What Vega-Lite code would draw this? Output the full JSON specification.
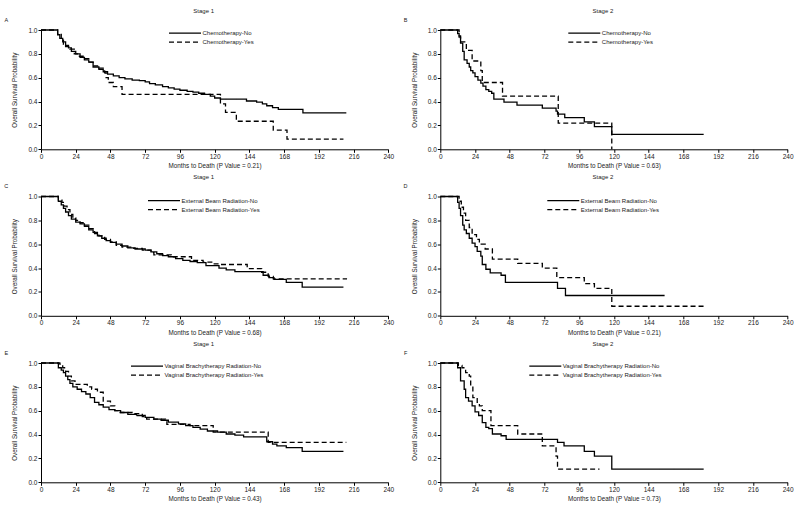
{
  "$schema": "https://vega.github.io/schema/vega-lite/v6.json",
  "padding": {"left": 4, "top": 7, "right": 0, "bottom": 0},
  "background": "white",
  "columns": 2,
  "spacing": {"row": 46.5, "column": 51.3},
  "bounds": "flush",
  "resolve": {"scale": {"strokeDash": "independent"}, "legend": {"strokeDash": "independent"}},
  "config": {
    "view": {"stroke": null},
    "font": "Liberation Sans",
    "axis": {"grid": false, "domainColor": "#000", "tickColor": "#000", "labelColor": "#222", "titleColor": "#222", "labelFontSize": 6.5, "titleFontSize": 6.3, "titleFontWeight": "normal", "tickSize": 3, "labelPadding": 1, "domainWidth": 1, "tickWidth": 1, "labelOverlap": false},
    "axisX": {"titlePadding": 3, "labelFlush": false, "labelOverlap": false},
    "axisY": {"titlePadding": 10, "labelOverlap": false},
    "title": {"fontSize": 6, "fontWeight": "normal", "color": "#222", "anchor": "middle", "frame": "group", "offset": 4, "dx": -11},
    "legend": {"symbolType": "stroke", "symbolSize": 1024, "symbolStrokeWidth": 1.3, "symbolStrokeColor": "#000", "labelFontSize": 6, "labelColor": "#222", "labelOffset": 0.5, "clipHeight": 8.3, "rowPadding": 0, "padding": 0, "symbolOffset": 0}
  },
  "datasets": {
    "A": [
      {"month":0,"surv":1,"group":"Chemotherapy-No"},{"month":11.5,"surv":0.96,"group":"Chemotherapy-No"},{"month":13,"surv":0.93,"group":"Chemotherapy-No"},{"month":15,"surv":0.9,"group":"Chemotherapy-No"},{"month":17,"surv":0.87,"group":"Chemotherapy-No"},{"month":19,"surv":0.85,"group":"Chemotherapy-No"},{"month":21,"surv":0.82,"group":"Chemotherapy-No"},{"month":24,"surv":0.8,"group":"Chemotherapy-No"},{"month":27,"surv":0.77,"group":"Chemotherapy-No"},{"month":30,"surv":0.75,"group":"Chemotherapy-No"},{"month":33,"surv":0.73,"group":"Chemotherapy-No"},{"month":36,"surv":0.69,"group":"Chemotherapy-No"},{"month":40,"surv":0.67,"group":"Chemotherapy-No"},{"month":43,"surv":0.65,"group":"Chemotherapy-No"},{"month":46,"surv":0.63,"group":"Chemotherapy-No"},{"month":50,"surv":0.615,"group":"Chemotherapy-No"},{"month":54,"surv":0.6,"group":"Chemotherapy-No"},{"month":58,"surv":0.59,"group":"Chemotherapy-No"},{"month":63,"surv":0.58,"group":"Chemotherapy-No"},{"month":68,"surv":0.575,"group":"Chemotherapy-No"},{"month":72,"surv":0.565,"group":"Chemotherapy-No"},{"month":75,"surv":0.55,"group":"Chemotherapy-No"},{"month":79,"surv":0.54,"group":"Chemotherapy-No"},{"month":84,"surv":0.525,"group":"Chemotherapy-No"},{"month":88,"surv":0.515,"group":"Chemotherapy-No"},{"month":92,"surv":0.505,"group":"Chemotherapy-No"},{"month":96,"surv":0.495,"group":"Chemotherapy-No"},{"month":101,"surv":0.485,"group":"Chemotherapy-No"},{"month":105,"surv":0.48,"group":"Chemotherapy-No"},{"month":109,"surv":0.47,"group":"Chemotherapy-No"},{"month":113,"surv":0.46,"group":"Chemotherapy-No"},{"month":117,"surv":0.445,"group":"Chemotherapy-No"},{"month":120,"surv":0.43,"group":"Chemotherapy-No"},{"month":124,"surv":0.42,"group":"Chemotherapy-No"},{"month":142,"surv":0.405,"group":"Chemotherapy-No"},{"month":149,"surv":0.395,"group":"Chemotherapy-No"},{"month":153,"surv":0.38,"group":"Chemotherapy-No"},{"month":156,"surv":0.365,"group":"Chemotherapy-No"},{"month":160,"surv":0.35,"group":"Chemotherapy-No"},{"month":164,"surv":0.335,"group":"Chemotherapy-No"},{"month":181,"surv":0.305,"group":"Chemotherapy-No"},{"month":211,"surv":0.305,"group":"Chemotherapy-No"},
      {"month":0,"surv":1,"group":"Chemotherapy-Yes"},{"month":11.5,"surv":0.97,"group":"Chemotherapy-Yes"},{"month":14,"surv":0.93,"group":"Chemotherapy-Yes"},{"month":15.5,"surv":0.88,"group":"Chemotherapy-Yes"},{"month":17,"surv":0.86,"group":"Chemotherapy-Yes"},{"month":20,"surv":0.84,"group":"Chemotherapy-Yes"},{"month":23,"surv":0.8,"group":"Chemotherapy-Yes"},{"month":26,"surv":0.78,"group":"Chemotherapy-Yes"},{"month":30,"surv":0.76,"group":"Chemotherapy-Yes"},{"month":33,"surv":0.73,"group":"Chemotherapy-Yes"},{"month":36,"surv":0.7,"group":"Chemotherapy-Yes"},{"month":40,"surv":0.68,"group":"Chemotherapy-Yes"},{"month":44,"surv":0.64,"group":"Chemotherapy-Yes"},{"month":45,"surv":0.6,"group":"Chemotherapy-Yes"},{"month":46.5,"surv":0.56,"group":"Chemotherapy-Yes"},{"month":50,"surv":0.525,"group":"Chemotherapy-Yes"},{"month":56,"surv":0.46,"group":"Chemotherapy-Yes"},{"month":124,"surv":0.38,"group":"Chemotherapy-Yes"},{"month":127.5,"surv":0.31,"group":"Chemotherapy-Yes"},{"month":135,"surv":0.235,"group":"Chemotherapy-Yes"},{"month":160.5,"surv":0.16,"group":"Chemotherapy-Yes"},{"month":170,"surv":0.085,"group":"Chemotherapy-Yes"},{"month":209,"surv":0.085,"group":"Chemotherapy-Yes"}
    ],
    "B": [
      {"month":0,"surv":1,"group":"Chemotherapy-No"},{"month":12,"surv":0.97,"group":"Chemotherapy-No"},{"month":13,"surv":0.94,"group":"Chemotherapy-No"},{"month":14,"surv":0.89,"group":"Chemotherapy-No"},{"month":15.5,"surv":0.82,"group":"Chemotherapy-No"},{"month":16.5,"surv":0.75,"group":"Chemotherapy-No"},{"month":18.5,"surv":0.72,"group":"Chemotherapy-No"},{"month":20,"surv":0.69,"group":"Chemotherapy-No"},{"month":21,"surv":0.66,"group":"Chemotherapy-No"},{"month":22.5,"surv":0.64,"group":"Chemotherapy-No"},{"month":24,"surv":0.61,"group":"Chemotherapy-No"},{"month":26,"surv":0.58,"group":"Chemotherapy-No"},{"month":28,"surv":0.555,"group":"Chemotherapy-No"},{"month":29.5,"surv":0.53,"group":"Chemotherapy-No"},{"month":31.5,"surv":0.5,"group":"Chemotherapy-No"},{"month":33.5,"surv":0.485,"group":"Chemotherapy-No"},{"month":35.5,"surv":0.47,"group":"Chemotherapy-No"},{"month":37,"surv":0.42,"group":"Chemotherapy-No"},{"month":44,"surv":0.395,"group":"Chemotherapy-No"},{"month":53,"surv":0.37,"group":"Chemotherapy-No"},{"month":70.5,"surv":0.345,"group":"Chemotherapy-No"},{"month":80,"surv":0.32,"group":"Chemotherapy-No"},{"month":81,"surv":0.295,"group":"Chemotherapy-No"},{"month":86,"surv":0.265,"group":"Chemotherapy-No"},{"month":99.5,"surv":0.23,"group":"Chemotherapy-No"},{"month":106.5,"surv":0.19,"group":"Chemotherapy-No"},{"month":118.5,"surv":0.125,"group":"Chemotherapy-No"},{"month":182,"surv":0.125,"group":"Chemotherapy-No"},
      {"month":0,"surv":1,"group":"Chemotherapy-Yes"},{"month":13,"surv":0.95,"group":"Chemotherapy-Yes"},{"month":14,"surv":0.9,"group":"Chemotherapy-Yes"},{"month":18,"surv":0.83,"group":"Chemotherapy-Yes"},{"month":22,"surv":0.74,"group":"Chemotherapy-Yes"},{"month":28,"surv":0.66,"group":"Chemotherapy-Yes"},{"month":29,"surv":0.56,"group":"Chemotherapy-Yes"},{"month":43,"surv":0.445,"group":"Chemotherapy-Yes"},{"month":81.5,"surv":0.22,"group":"Chemotherapy-Yes"},{"month":118.5,"surv":0,"group":"Chemotherapy-Yes"}
    ],
    "C": [
      {"month":0,"surv":1,"group":"External Beam Radiation-No"},{"month":12,"surv":0.96,"group":"External Beam Radiation-No"},{"month":14,"surv":0.93,"group":"External Beam Radiation-No"},{"month":15.5,"surv":0.9,"group":"External Beam Radiation-No"},{"month":17,"surv":0.87,"group":"External Beam Radiation-No"},{"month":19,"surv":0.84,"group":"External Beam Radiation-No"},{"month":21,"surv":0.81,"group":"External Beam Radiation-No"},{"month":24,"surv":0.785,"group":"External Beam Radiation-No"},{"month":27,"surv":0.77,"group":"External Beam Radiation-No"},{"month":30,"surv":0.75,"group":"External Beam Radiation-No"},{"month":33,"surv":0.72,"group":"External Beam Radiation-No"},{"month":36,"surv":0.7,"group":"External Beam Radiation-No"},{"month":39,"surv":0.67,"group":"External Beam Radiation-No"},{"month":42,"surv":0.65,"group":"External Beam Radiation-No"},{"month":45,"surv":0.63,"group":"External Beam Radiation-No"},{"month":48,"surv":0.615,"group":"External Beam Radiation-No"},{"month":52,"surv":0.6,"group":"External Beam Radiation-No"},{"month":56,"surv":0.585,"group":"External Beam Radiation-No"},{"month":60,"surv":0.57,"group":"External Beam Radiation-No"},{"month":65,"surv":0.56,"group":"External Beam Radiation-No"},{"month":72,"surv":0.55,"group":"External Beam Radiation-No"},{"month":76,"surv":0.535,"group":"External Beam Radiation-No"},{"month":80,"surv":0.52,"group":"External Beam Radiation-No"},{"month":84,"surv":0.505,"group":"External Beam Radiation-No"},{"month":88,"surv":0.495,"group":"External Beam Radiation-No"},{"month":93,"surv":0.48,"group":"External Beam Radiation-No"},{"month":98,"surv":0.465,"group":"External Beam Radiation-No"},{"month":103,"surv":0.455,"group":"External Beam Radiation-No"},{"month":108,"surv":0.445,"group":"External Beam Radiation-No"},{"month":114,"surv":0.42,"group":"External Beam Radiation-No"},{"month":123,"surv":0.4,"group":"External Beam Radiation-No"},{"month":128,"surv":0.385,"group":"External Beam Radiation-No"},{"month":134,"surv":0.37,"group":"External Beam Radiation-No"},{"month":153.5,"surv":0.34,"group":"External Beam Radiation-No"},{"month":157.5,"surv":0.32,"group":"External Beam Radiation-No"},{"month":161,"surv":0.305,"group":"External Beam Radiation-No"},{"month":169.5,"surv":0.28,"group":"External Beam Radiation-No"},{"month":180.5,"surv":0.24,"group":"External Beam Radiation-No"},{"month":209,"surv":0.24,"group":"External Beam Radiation-No"},
      {"month":0,"surv":1,"group":"External Beam Radiation-Yes"},{"month":12,"surv":0.97,"group":"External Beam Radiation-Yes"},{"month":14.5,"surv":0.95,"group":"External Beam Radiation-Yes"},{"month":16,"surv":0.92,"group":"External Beam Radiation-Yes"},{"month":18,"surv":0.89,"group":"External Beam Radiation-Yes"},{"month":20,"surv":0.85,"group":"External Beam Radiation-Yes"},{"month":22,"surv":0.82,"group":"External Beam Radiation-Yes"},{"month":24,"surv":0.8,"group":"External Beam Radiation-Yes"},{"month":27,"surv":0.78,"group":"External Beam Radiation-Yes"},{"month":30,"surv":0.76,"group":"External Beam Radiation-Yes"},{"month":33,"surv":0.73,"group":"External Beam Radiation-Yes"},{"month":37,"surv":0.69,"group":"External Beam Radiation-Yes"},{"month":40,"surv":0.67,"group":"External Beam Radiation-Yes"},{"month":44,"surv":0.64,"group":"External Beam Radiation-Yes"},{"month":48,"surv":0.62,"group":"External Beam Radiation-Yes"},{"month":52,"surv":0.59,"group":"External Beam Radiation-Yes"},{"month":56,"surv":0.575,"group":"External Beam Radiation-Yes"},{"month":62,"surv":0.565,"group":"External Beam Radiation-Yes"},{"month":70,"surv":0.55,"group":"External Beam Radiation-Yes"},{"month":76,"surv":0.53,"group":"External Beam Radiation-Yes"},{"month":78,"surv":0.51,"group":"External Beam Radiation-Yes"},{"month":90,"surv":0.495,"group":"External Beam Radiation-Yes"},{"month":104,"surv":0.465,"group":"External Beam Radiation-Yes"},{"month":112,"surv":0.45,"group":"External Beam Radiation-Yes"},{"month":119,"surv":0.435,"group":"External Beam Radiation-Yes"},{"month":124,"surv":0.43,"group":"External Beam Radiation-Yes"},{"month":142.5,"surv":0.395,"group":"External Beam Radiation-Yes"},{"month":152.5,"surv":0.365,"group":"External Beam Radiation-Yes"},{"month":157,"surv":0.33,"group":"External Beam Radiation-Yes"},{"month":160.5,"surv":0.31,"group":"External Beam Radiation-Yes"},{"month":211.5,"surv":0.31,"group":"External Beam Radiation-Yes"}
    ],
    "D": [
      {"month":0,"surv":1,"group":"External Beam Radiation-No"},{"month":12,"surv":0.95,"group":"External Beam Radiation-No"},{"month":13,"surv":0.9,"group":"External Beam Radiation-No"},{"month":14,"surv":0.84,"group":"External Beam Radiation-No"},{"month":15.5,"surv":0.76,"group":"External Beam Radiation-No"},{"month":16.5,"surv":0.72,"group":"External Beam Radiation-No"},{"month":18,"surv":0.69,"group":"External Beam Radiation-No"},{"month":20,"surv":0.65,"group":"External Beam Radiation-No"},{"month":22,"surv":0.61,"group":"External Beam Radiation-No"},{"month":24,"surv":0.58,"group":"External Beam Radiation-No"},{"month":25.5,"surv":0.54,"group":"External Beam Radiation-No"},{"month":28,"surv":0.5,"group":"External Beam Radiation-No"},{"month":29,"surv":0.43,"group":"External Beam Radiation-No"},{"month":31.5,"surv":0.39,"group":"External Beam Radiation-No"},{"month":34.5,"surv":0.36,"group":"External Beam Radiation-No"},{"month":42,"surv":0.34,"group":"External Beam Radiation-No"},{"month":45,"surv":0.28,"group":"External Beam Radiation-No"},{"month":81,"surv":0.23,"group":"External Beam Radiation-No"},{"month":86.5,"surv":0.17,"group":"External Beam Radiation-No"},{"month":155,"surv":0.17,"group":"External Beam Radiation-No"},
      {"month":0,"surv":1,"group":"External Beam Radiation-Yes"},{"month":13,"surv":0.96,"group":"External Beam Radiation-Yes"},{"month":14.5,"surv":0.91,"group":"External Beam Radiation-Yes"},{"month":16,"surv":0.86,"group":"External Beam Radiation-Yes"},{"month":17.5,"surv":0.8,"group":"External Beam Radiation-Yes"},{"month":20,"surv":0.74,"group":"External Beam Radiation-Yes"},{"month":22,"surv":0.68,"group":"External Beam Radiation-Yes"},{"month":25,"surv":0.64,"group":"External Beam Radiation-Yes"},{"month":27,"surv":0.6,"group":"External Beam Radiation-Yes"},{"month":31,"surv":0.56,"group":"External Beam Radiation-Yes"},{"month":36,"surv":0.475,"group":"External Beam Radiation-Yes"},{"month":53.5,"surv":0.44,"group":"External Beam Radiation-Yes"},{"month":70.5,"surv":0.4,"group":"External Beam Radiation-Yes"},{"month":80.5,"surv":0.32,"group":"External Beam Radiation-Yes"},{"month":99.5,"surv":0.27,"group":"External Beam Radiation-Yes"},{"month":106.5,"surv":0.23,"group":"External Beam Radiation-Yes"},{"month":118.5,"surv":0.08,"group":"External Beam Radiation-Yes"},{"month":182,"surv":0.08,"group":"External Beam Radiation-Yes"}
    ],
    "E": [
      {"month":0,"surv":1,"group":"Vaginal Brachytherapy Radiation-No"},{"month":12,"surv":0.96,"group":"Vaginal Brachytherapy Radiation-No"},{"month":14,"surv":0.94,"group":"Vaginal Brachytherapy Radiation-No"},{"month":15.5,"surv":0.92,"group":"Vaginal Brachytherapy Radiation-No"},{"month":17,"surv":0.89,"group":"Vaginal Brachytherapy Radiation-No"},{"month":18.5,"surv":0.86,"group":"Vaginal Brachytherapy Radiation-No"},{"month":20,"surv":0.83,"group":"Vaginal Brachytherapy Radiation-No"},{"month":22,"surv":0.8,"group":"Vaginal Brachytherapy Radiation-No"},{"month":25,"surv":0.78,"group":"Vaginal Brachytherapy Radiation-No"},{"month":28,"surv":0.76,"group":"Vaginal Brachytherapy Radiation-No"},{"month":31,"surv":0.74,"group":"Vaginal Brachytherapy Radiation-No"},{"month":34,"surv":0.71,"group":"Vaginal Brachytherapy Radiation-No"},{"month":37,"surv":0.67,"group":"Vaginal Brachytherapy Radiation-No"},{"month":40,"surv":0.65,"group":"Vaginal Brachytherapy Radiation-No"},{"month":43,"surv":0.63,"group":"Vaginal Brachytherapy Radiation-No"},{"month":47,"surv":0.61,"group":"Vaginal Brachytherapy Radiation-No"},{"month":51,"surv":0.6,"group":"Vaginal Brachytherapy Radiation-No"},{"month":55,"surv":0.585,"group":"Vaginal Brachytherapy Radiation-No"},{"month":60,"surv":0.57,"group":"Vaginal Brachytherapy Radiation-No"},{"month":66,"surv":0.56,"group":"Vaginal Brachytherapy Radiation-No"},{"month":72,"surv":0.545,"group":"Vaginal Brachytherapy Radiation-No"},{"month":78,"surv":0.53,"group":"Vaginal Brachytherapy Radiation-No"},{"month":83,"surv":0.52,"group":"Vaginal Brachytherapy Radiation-No"},{"month":88,"surv":0.505,"group":"Vaginal Brachytherapy Radiation-No"},{"month":95,"surv":0.49,"group":"Vaginal Brachytherapy Radiation-No"},{"month":100,"surv":0.475,"group":"Vaginal Brachytherapy Radiation-No"},{"month":105,"surv":0.46,"group":"Vaginal Brachytherapy Radiation-No"},{"month":110,"surv":0.445,"group":"Vaginal Brachytherapy Radiation-No"},{"month":115,"surv":0.43,"group":"Vaginal Brachytherapy Radiation-No"},{"month":122,"surv":0.42,"group":"Vaginal Brachytherapy Radiation-No"},{"month":128,"surv":0.405,"group":"Vaginal Brachytherapy Radiation-No"},{"month":134,"surv":0.395,"group":"Vaginal Brachytherapy Radiation-No"},{"month":140,"surv":0.38,"group":"Vaginal Brachytherapy Radiation-No"},{"month":156,"surv":0.34,"group":"Vaginal Brachytherapy Radiation-No"},{"month":160,"surv":0.32,"group":"Vaginal Brachytherapy Radiation-No"},{"month":163,"surv":0.305,"group":"Vaginal Brachytherapy Radiation-No"},{"month":169.5,"surv":0.29,"group":"Vaginal Brachytherapy Radiation-No"},{"month":180.5,"surv":0.26,"group":"Vaginal Brachytherapy Radiation-No"},{"month":209,"surv":0.26,"group":"Vaginal Brachytherapy Radiation-No"},
      {"month":0,"surv":1,"group":"Vaginal Brachytherapy Radiation-Yes"},{"month":13,"surv":0.99,"group":"Vaginal Brachytherapy Radiation-Yes"},{"month":15,"surv":0.96,"group":"Vaginal Brachytherapy Radiation-Yes"},{"month":17,"surv":0.93,"group":"Vaginal Brachytherapy Radiation-Yes"},{"month":19,"surv":0.89,"group":"Vaginal Brachytherapy Radiation-Yes"},{"month":21,"surv":0.85,"group":"Vaginal Brachytherapy Radiation-Yes"},{"month":23.5,"surv":0.82,"group":"Vaginal Brachytherapy Radiation-Yes"},{"month":32,"surv":0.8,"group":"Vaginal Brachytherapy Radiation-Yes"},{"month":35,"surv":0.78,"group":"Vaginal Brachytherapy Radiation-Yes"},{"month":39,"surv":0.755,"group":"Vaginal Brachytherapy Radiation-Yes"},{"month":43,"surv":0.68,"group":"Vaginal Brachytherapy Radiation-Yes"},{"month":48,"surv":0.64,"group":"Vaginal Brachytherapy Radiation-Yes"},{"month":51,"surv":0.6,"group":"Vaginal Brachytherapy Radiation-Yes"},{"month":54,"surv":0.585,"group":"Vaginal Brachytherapy Radiation-Yes"},{"month":63,"surv":0.575,"group":"Vaginal Brachytherapy Radiation-Yes"},{"month":70,"surv":0.55,"group":"Vaginal Brachytherapy Radiation-Yes"},{"month":73,"surv":0.53,"group":"Vaginal Brachytherapy Radiation-Yes"},{"month":86,"surv":0.51,"group":"Vaginal Brachytherapy Radiation-Yes"},{"month":87,"surv":0.485,"group":"Vaginal Brachytherapy Radiation-Yes"},{"month":103,"surv":0.475,"group":"Vaginal Brachytherapy Radiation-Yes"},{"month":119,"surv":0.42,"group":"Vaginal Brachytherapy Radiation-Yes"},{"month":157,"surv":0.335,"group":"Vaginal Brachytherapy Radiation-Yes"},{"month":211,"surv":0.335,"group":"Vaginal Brachytherapy Radiation-Yes"}
    ],
    "F": [
      {"month":0,"surv":1,"group":"Vaginal Brachytherapy Radiation-No"},{"month":12,"surv":0.96,"group":"Vaginal Brachytherapy Radiation-No"},{"month":14,"surv":0.85,"group":"Vaginal Brachytherapy Radiation-No"},{"month":16.5,"surv":0.78,"group":"Vaginal Brachytherapy Radiation-No"},{"month":17.5,"surv":0.71,"group":"Vaginal Brachytherapy Radiation-No"},{"month":19.5,"surv":0.68,"group":"Vaginal Brachytherapy Radiation-No"},{"month":22,"surv":0.64,"group":"Vaginal Brachytherapy Radiation-No"},{"month":24,"surv":0.59,"group":"Vaginal Brachytherapy Radiation-No"},{"month":26.5,"surv":0.56,"group":"Vaginal Brachytherapy Radiation-No"},{"month":29,"surv":0.5,"group":"Vaginal Brachytherapy Radiation-No"},{"month":31.5,"surv":0.46,"group":"Vaginal Brachytherapy Radiation-No"},{"month":33.5,"surv":0.45,"group":"Vaginal Brachytherapy Radiation-No"},{"month":36,"surv":0.405,"group":"Vaginal Brachytherapy Radiation-No"},{"month":42,"surv":0.39,"group":"Vaginal Brachytherapy Radiation-No"},{"month":45.5,"surv":0.36,"group":"Vaginal Brachytherapy Radiation-No"},{"month":81,"surv":0.335,"group":"Vaginal Brachytherapy Radiation-No"},{"month":85.5,"surv":0.305,"group":"Vaginal Brachytherapy Radiation-No"},{"month":99.5,"surv":0.26,"group":"Vaginal Brachytherapy Radiation-No"},{"month":106.5,"surv":0.22,"group":"Vaginal Brachytherapy Radiation-No"},{"month":118.5,"surv":0.11,"group":"Vaginal Brachytherapy Radiation-No"},{"month":182,"surv":0.11,"group":"Vaginal Brachytherapy Radiation-No"},
      {"month":0,"surv":1,"group":"Vaginal Brachytherapy Radiation-Yes"},{"month":12.5,"surv":0.98,"group":"Vaginal Brachytherapy Radiation-Yes"},{"month":15,"surv":0.96,"group":"Vaginal Brachytherapy Radiation-Yes"},{"month":17.5,"surv":0.92,"group":"Vaginal Brachytherapy Radiation-Yes"},{"month":20,"surv":0.89,"group":"Vaginal Brachytherapy Radiation-Yes"},{"month":21,"surv":0.81,"group":"Vaginal Brachytherapy Radiation-Yes"},{"month":22.5,"surv":0.71,"group":"Vaginal Brachytherapy Radiation-Yes"},{"month":25.5,"surv":0.67,"group":"Vaginal Brachytherapy Radiation-Yes"},{"month":27,"surv":0.64,"group":"Vaginal Brachytherapy Radiation-Yes"},{"month":29,"surv":0.6,"group":"Vaginal Brachytherapy Radiation-Yes"},{"month":35,"surv":0.475,"group":"Vaginal Brachytherapy Radiation-Yes"},{"month":53.5,"surv":0.405,"group":"Vaginal Brachytherapy Radiation-Yes"},{"month":70.5,"surv":0.305,"group":"Vaginal Brachytherapy Radiation-Yes"},{"month":80,"surv":0.22,"group":"Vaginal Brachytherapy Radiation-Yes"},{"month":81,"surv":0.11,"group":"Vaginal Brachytherapy Radiation-Yes"},{"month":110,"surv":0.11,"group":"Vaginal Brachytherapy Radiation-Yes"}
    ]
  },
  "concat": [
    {
      "width": 347.3, "height": 119.3,
      "title": {"text": "Stage 1"},
      "layer": [
        {"data": {"name": "A"}, "mark": {"type": "line", "interpolate": "step-after", "color": "#000", "strokeWidth": 1.3},
         "encoding": {
           "x": {"field": "month", "type": "quantitative", "scale": {"domain": [0, 240]}, "axis": {"title": "Months to Death (P Value = 0.21)", "values": [0,24,48,72,96,120,144,168,192,216,240], "tickCount": 11, "labelOverlap": false}},
           "y": {"field": "surv", "type": "quantitative", "scale": {"domain": [0, 1]}, "axis": {"title": "Overall Survival Probability", "values": [0,0.2,0.4,0.6,0.8,1], "tickCount": 6, "format": ".1f", "labelOverlap": false}},
           "strokeDash": {"field": "group", "type": "nominal", "scale": {"domain": ["Chemotherapy-No", "Chemotherapy-Yes"], "range": [[1,0],[5,3]]}, "legend": {"orient": "none", "legendX": 127, "legendY": -1, "title": null}}
         }},
        {"data": {"values": [{"letter": "A"}]}, "mark": {"type": "text", "fontSize": 5.5, "color": "#222", "align": "center", "baseline": "middle"},
         "encoding": {"x": {"datum": -24, "type": "quantitative"}, "y": {"datum": 1.085, "type": "quantitative"}, "text": {"field": "letter"}}}
      ]
    },
    {
      "width": 347.3, "height": 119.3,
      "title": {"text": "Stage 2"},
      "layer": [
        {"data": {"name": "B"}, "mark": {"type": "line", "interpolate": "step-after", "color": "#000", "strokeWidth": 1.3},
         "encoding": {
           "x": {"field": "month", "type": "quantitative", "scale": {"domain": [0, 240]}, "axis": {"title": "Months to Death (P Value = 0.63)", "values": [0,24,48,72,96,120,144,168,192,216,240], "tickCount": 11, "labelOverlap": false}},
           "y": {"field": "surv", "type": "quantitative", "scale": {"domain": [0, 1]}, "axis": {"title": "Overall Survival Probability", "values": [0,0.2,0.4,0.6,0.8,1], "tickCount": 6, "format": ".1f", "labelOverlap": false}},
           "strokeDash": {"field": "group", "type": "nominal", "scale": {"domain": ["Chemotherapy-No", "Chemotherapy-Yes"], "range": [[1,0],[5,3]]}, "legend": {"orient": "none", "legendX": 127, "legendY": -1, "title": null}}
         }},
        {"data": {"values": [{"letter": "B"}]}, "mark": {"type": "text", "fontSize": 5.5, "color": "#222", "align": "center", "baseline": "middle"},
         "encoding": {"x": {"datum": -24, "type": "quantitative"}, "y": {"datum": 1.085, "type": "quantitative"}, "text": {"field": "letter"}}}
      ]
    },
    {
      "width": 347.3, "height": 119.3,
      "title": {"text": "Stage 1"},
      "layer": [
        {"data": {"name": "C"}, "mark": {"type": "line", "interpolate": "step-after", "color": "#000", "strokeWidth": 1.3},
         "encoding": {
           "x": {"field": "month", "type": "quantitative", "scale": {"domain": [0, 240]}, "axis": {"title": "Months to Death (P Value = 0.68)", "values": [0,24,48,72,96,120,144,168,192,216,240], "tickCount": 11, "labelOverlap": false}},
           "y": {"field": "surv", "type": "quantitative", "scale": {"domain": [0, 1]}, "axis": {"title": "Overall Survival Probability", "values": [0,0.2,0.4,0.6,0.8,1], "tickCount": 6, "format": ".1f", "labelOverlap": false}},
           "strokeDash": {"field": "group", "type": "nominal", "scale": {"domain": ["External Beam Radiation-No", "External Beam Radiation-Yes"], "range": [[1,0],[5,3]]}, "legend": {"orient": "none", "legendX": 106, "legendY": 0, "title": null}}
         }},
        {"data": {"values": [{"letter": "C"}]}, "mark": {"type": "text", "fontSize": 5.5, "color": "#222", "align": "center", "baseline": "middle"},
         "encoding": {"x": {"datum": -24, "type": "quantitative"}, "y": {"datum": 1.085, "type": "quantitative"}, "text": {"field": "letter"}}}
      ]
    },
    {
      "width": 347.3, "height": 119.3,
      "title": {"text": "Stage 2"},
      "layer": [
        {"data": {"name": "D"}, "mark": {"type": "line", "interpolate": "step-after", "color": "#000", "strokeWidth": 1.3},
         "encoding": {
           "x": {"field": "month", "type": "quantitative", "scale": {"domain": [0, 240]}, "axis": {"title": "Months to Death (P Value = 0.21)", "values": [0,24,48,72,96,120,144,168,192,216,240], "tickCount": 11, "labelOverlap": false}},
           "y": {"field": "surv", "type": "quantitative", "scale": {"domain": [0, 1]}, "axis": {"title": "Overall Survival Probability", "values": [0,0.2,0.4,0.6,0.8,1], "tickCount": 6, "format": ".1f", "labelOverlap": false}},
           "strokeDash": {"field": "group", "type": "nominal", "scale": {"domain": ["External Beam Radiation-No", "External Beam Radiation-Yes"], "range": [[1,0],[5,3]]}, "legend": {"orient": "none", "legendX": 106, "legendY": 0, "title": null}}
         }},
        {"data": {"values": [{"letter": "D"}]}, "mark": {"type": "text", "fontSize": 5.5, "color": "#222", "align": "center", "baseline": "middle"},
         "encoding": {"x": {"datum": -24, "type": "quantitative"}, "y": {"datum": 1.085, "type": "quantitative"}, "text": {"field": "letter"}}}
      ]
    },
    {
      "width": 347.3, "height": 119.3,
      "title": {"text": "Stage 1"},
      "layer": [
        {"data": {"name": "E"}, "mark": {"type": "line", "interpolate": "step-after", "color": "#000", "strokeWidth": 1.3},
         "encoding": {
           "x": {"field": "month", "type": "quantitative", "scale": {"domain": [0, 240]}, "axis": {"title": "Months to Death (P Value = 0.43)", "values": [0,24,48,72,96,120,144,168,192,216,240], "tickCount": 11, "labelOverlap": false}},
           "y": {"field": "surv", "type": "quantitative", "scale": {"domain": [0, 1]}, "axis": {"title": "Overall Survival Probability", "values": [0,0.2,0.4,0.6,0.8,1], "tickCount": 6, "format": ".1f", "labelOverlap": false}},
           "strokeDash": {"field": "group", "type": "nominal", "scale": {"domain": ["Vaginal Brachytherapy Radiation-No", "Vaginal Brachytherapy Radiation-Yes"], "range": [[1,0],[5,3]]}, "legend": {"orient": "none", "legendX": 89, "legendY": -1, "title": null}}
         }},
        {"data": {"values": [{"letter": "E"}]}, "mark": {"type": "text", "fontSize": 5.5, "color": "#222", "align": "center", "baseline": "middle"},
         "encoding": {"x": {"datum": -24, "type": "quantitative"}, "y": {"datum": 1.085, "type": "quantitative"}, "text": {"field": "letter"}}}
      ]
    },
    {
      "width": 347.3, "height": 119.3,
      "title": {"text": "Stage 2"},
      "layer": [
        {"data": {"name": "F"}, "mark": {"type": "line", "interpolate": "step-after", "color": "#000", "strokeWidth": 1.3},
         "encoding": {
           "x": {"field": "month", "type": "quantitative", "scale": {"domain": [0, 240]}, "axis": {"title": "Months to Death (P Value = 0.73)", "values": [0,24,48,72,96,120,144,168,192,216,240], "tickCount": 11, "labelOverlap": false}},
           "y": {"field": "surv", "type": "quantitative", "scale": {"domain": [0, 1]}, "axis": {"title": "Overall Survival Probability", "values": [0,0.2,0.4,0.6,0.8,1], "tickCount": 6, "format": ".1f", "labelOverlap": false}},
           "strokeDash": {"field": "group", "type": "nominal", "scale": {"domain": ["Vaginal Brachytherapy Radiation-No", "Vaginal Brachytherapy Radiation-Yes"], "range": [[1,0],[5,3]]}, "legend": {"orient": "none", "legendX": 88, "legendY": -1, "title": null}}
         }},
        {"data": {"values": [{"letter": "F"}]}, "mark": {"type": "text", "fontSize": 5.5, "color": "#222", "align": "center", "baseline": "middle"},
         "encoding": {"x": {"datum": -24, "type": "quantitative"}, "y": {"datum": 1.085, "type": "quantitative"}, "text": {"field": "letter"}}}
      ]
    }
  ]
}
